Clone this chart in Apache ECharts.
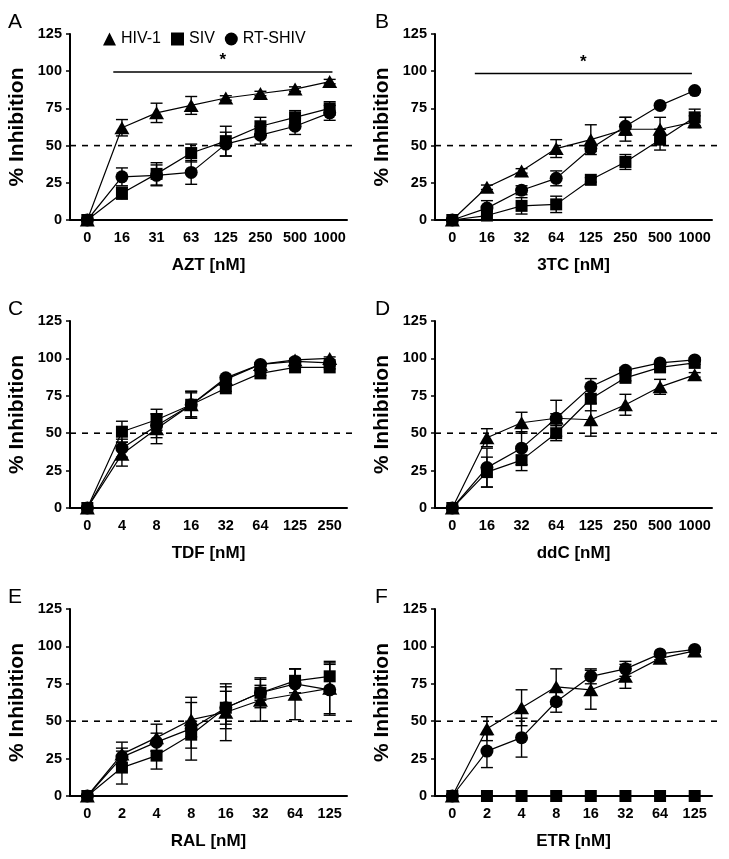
<!DOCTYPE html>
<html>
<head>
<meta charset="utf-8">
<title>% Inhibition</title>
<script src="https://cdn.jsdelivr.net/npm/echarts@6/dist/echarts.min.js"></script>
<style>body{margin:0;background:#fff;}</style>
</head>
<body>
<div id="main" style="width:729px;height:859px;"></div>
<script>
// ---- data ----
var panelLetters = ['A', 'B', 'C', 'D', 'E', 'F'];
var drugNames = ['AZT', '3TC', 'TDF', 'ddC', 'RAL', 'ETR'];
var strainNames = ['HIV-1', 'SIV', 'RT-SHIV'];

var aztDoses = ['0', '16', '31', '63', '125', '250', '500', '1000'];
var aztHiv = [0, 62, 72, 77, 82, 85, 88, 93];
var aztHivErr = [0, 5.5, 6.5, 6, 1.5, 1.5, 1.5, 1.5];
var aztSiv = [0, 18, 31, 45, 53, 63, 69, 75];
var aztSivErr = [0, 4, 7.5, 6, 10, 6, 4.5, 4.5];
var aztShiv = [0, 29, 30, 32, 51, 57, 63, 72];
var aztShivErr = [0, 6, 7, 8, 8, 6, 5.5, 5];
var aztSig = [0.75, 7.08, 99.5];

var tcDoses = ['0', '16', '32', '64', '125', '250', '500', '1000'];
var tcHiv = [0, 22, 33, 48, 54, 61, 61, 66];
var tcHivErr = [0, 1.5, 1.5, 6, 10, 8, 8, 4];
var tcSiv = [0, 3, 9.5, 10.5, 27, 39, 54, 69];
var tcSivErr = [0, 3, 5.5, 5.5, 1.5, 5, 7, 5.5];
var tcShiv = [0, 8, 20, 28, 48, 63, 77, 87];
var tcShivErr = [0, 5, 3, 5, 2, 6, 1, 1];
var tcSig = [0.65, 6.92, 98.5];

var tdfDoses = ['0', '4', '8', '16', '32', '64', '125', '250'];
var tdfHiv = [0, 36, 53, 69, 86, 96, 99, 100];
var tdfHivErr = [0, 8, 10, 9, 1.5, 1, 1, 1];
var tdfSiv = [0, 51, 59, 69, 80, 90, 94, 94];
var tdfSivErr = [0, 7, 7, 9, 2, 1.5, 1, 1];
var tdfShiv = [0, 40, 55, 69, 87, 96, 98, 97];
var tdfShivErr = [0, 6, 8, 8, 1.5, 1, 1, 1];

var ddcDoses = ['0', '16', '32', '64', '125', '250', '500', '1000'];
var ddcHiv = [0, 47, 57, 60, 59, 69, 81, 89];
var ddcHivErr = [0, 6, 7, 3, 11, 7, 5, 1.5];
var ddcSiv = [0, 24, 32, 50, 73, 87, 94, 97];
var ddcSivErr = [0, 10, 7, 5, 8, 2, 1.5, 1];
var ddcShiv = [0, 27, 40, 60, 81, 92, 97, 99];
var ddcShivErr = [0, 13, 11, 12, 5.5, 2, 1, 1];

var ralDoses = ['0', '2', '4', '8', '16', '32', '64', '125'];
var ralHiv = [0, 28, 39, 51, 56, 64, 68, 72];
var ralHivErr = [0, 8, 9, 11.5, 19, 14, 17, 17];
var ralSiv = [0, 19, 27, 41, 59, 69, 77, 80];
var ralSivErr = [0, 11, 9, 9, 11, 10, 8, 10];
var ralShiv = [0, 26, 36, 45, 59, 69, 75, 71];
var ralShivErr = [0, 6, 6, 21, 14, 5, 10, 17];

var etrDoses = ['0', '2', '4', '8', '16', '32', '64', '125'];
var etrHiv = [0, 45, 59, 73, 71, 80, 92, 97];
var etrHivErr = [0, 8, 12, 12, 13, 8, 1, 1];
var etrSiv = [0, 0, 0, 0, 0, 0, 0, 0];
var etrSivErr = [0, 0, 0, 0, 0, 0, 0, 0];
var etrShiv = [0, 30, 39, 63, 80, 85, 95, 98];
var etrShivErr = [0, 11, 13, 7, 5, 5, 1, 1];

var yTicks = [0, 25, 50, 75, 100, 125];
var halfLine = 50;

// ---- build the chart ----
var FONT = '"Liberation Sans", Arial, Helvetica, sans-serif';
var myChart = echarts.init(document.getElementById('main'));

var panels = [
  { doses: aztDoses, vals: [aztHiv, aztSiv, aztShiv], errs: [aztHivErr, aztSivErr, aztShivErr], sig: aztSig },
  { doses: tcDoses, vals: [tcHiv, tcSiv, tcShiv], errs: [tcHivErr, tcSivErr, tcShivErr], sig: tcSig },
  { doses: tdfDoses, vals: [tdfHiv, tdfSiv, tdfShiv], errs: [tdfHivErr, tdfSivErr, tdfShivErr] },
  { doses: ddcDoses, vals: [ddcHiv, ddcSiv, ddcShiv], errs: [ddcHivErr, ddcSivErr, ddcShivErr] },
  { doses: ralDoses, vals: [ralHiv, ralSiv, ralShiv], errs: [ralHivErr, ralSivErr, ralShivErr] },
  { doses: etrDoses, vals: [etrHiv, etrSiv, etrShiv], errs: [etrHivErr, etrSivErr, etrShivErr] }
];

// grid boxes (pixels)
var gridLeft = [70, 435];
var gridTop = [34, 321, 609];
var gridH = [186, 187, 187];
var gridW = 277;

var symbols = ['triangle', 'rect', 'circle'];
var symbolSizes = [[15, 13], 12, 13];
var drawOrder = [0, 2, 1]; // square drawn on top

function errorBar(params, api) {
  var x = api.value(0), y = api.value(1), e = api.value(2);
  if (!e) return;
  var hi = api.coord([x, y + e]);
  var lo = api.coord([x, y - e]);
  var w = 6;
  var st = { stroke: '#000', lineWidth: 1.4 };
  return {
    type: 'group',
    children: [
      { type: 'line', shape: { x1: hi[0], y1: hi[1], x2: lo[0], y2: lo[1] }, style: st },
      { type: 'line', shape: { x1: hi[0] - w, y1: hi[1], x2: hi[0] + w, y2: hi[1] }, style: st },
      { type: 'line', shape: { x1: lo[0] - w, y1: lo[1], x2: lo[0] + w, y2: lo[1] }, style: st }
    ]
  };
}

function refLine(params, api) {
  var cs = params.coordSys;
  var y = api.coord([0, api.value(1)])[1];
  return {
    type: 'line',
    shape: { x1: cs.x, y1: y, x2: cs.x + cs.width + 6, y2: y },
    style: { stroke: '#000', lineWidth: 1.6, lineDash: [6, 6] }
  };
}

function sigBar(params, api) {
  var s = api.value(0), e = api.value(1), v = api.value(2);
  var band = api.size([1, 0])[0];
  var p1 = api.coord([Math.floor(s), v]);
  var p2 = api.coord([Math.floor(e), v]);
  var x1 = p1[0] + (s - Math.floor(s)) * band;
  var x2 = p2[0] + (e - Math.floor(e)) * band;
  return {
    type: 'group',
    children: [
      { type: 'line', shape: { x1: x1, y1: p1[1], x2: x2, y2: p1[1] }, style: { stroke: '#000', lineWidth: 1.5 } },
      { type: 'text', x: (x1 + x2) / 2, y: p1[1] - 3,
        style: { text: '*', fill: '#000', font: 'bold 17px ' + FONT, align: 'center', verticalAlign: 'bottom' } }
    ]
  };
}

var grids = [], xAxes = [], yAxes = [], series = [], titles = [];

panels.forEach(function (p, i) {
  var col = i % 2, row = Math.floor(i / 2);
  grids.push({ left: gridLeft[col], top: gridTop[row], width: gridW, height: gridH[row] });
  titles.push({
    text: panelLetters[i], left: col === 0 ? 8 : 375, top: gridTop[row] - 22, padding: 0,
    textStyle: { fontSize: 21, fontWeight: 'normal', color: '#000', fontFamily: FONT }
  });
  xAxes.push({
    gridIndex: i, type: 'category', data: p.doses, boundaryGap: true,
    name: drugNames[i] + ' [nM]', nameLocation: 'middle', nameGap: 37,
    nameTextStyle: { fontSize: 17, fontWeight: 'bold', color: '#000', fontFamily: FONT },
    axisLine: { lineStyle: { color: '#000', width: 2 } },
    axisTick: { alignWithLabel: true, length: 4, lineStyle: { color: '#000', width: 1.5 } },
    axisLabel: { interval: 0, margin: 10, fontSize: 14.5, fontWeight: 'bold', color: '#000', fontFamily: FONT },
    splitLine: { show: false }
  });
  yAxes.push({
    gridIndex: i, type: 'value', min: yTicks[0], max: yTicks[yTicks.length - 1], interval: 25,
    name: '% Inhibition', nameLocation: 'middle', nameGap: 42, nameRotate: 90,
    nameTextStyle: { fontSize: 21, fontWeight: 'bold', color: '#000', fontFamily: FONT },
    axisLine: { show: true, lineStyle: { color: '#000', width: 2 } },
    axisTick: { show: true, length: 4, lineStyle: { color: '#000', width: 1.5 } },
    axisLabel: { margin: 8, fontSize: 14.5, fontWeight: 'bold', color: '#000', fontFamily: FONT },
    splitLine: { show: false }
  });

  // dashed 50% line
  series.push({
    type: 'custom', xAxisIndex: i, yAxisIndex: i, silent: true, z: 1,
    data: [[0, halfLine]], encode: { x: 0, y: 1 }, renderItem: refLine
  });

  drawOrder.forEach(function (k) {
    series.push({
      type: 'custom', name: strainNames[k], xAxisIndex: i, yAxisIndex: i, z: 2,
      itemStyle: { color: '#000' },
      data: p.vals[k].map(function (v, j) { return [j, v, p.errs[k][j]]; }),
      encode: { x: 0, y: 1 }, renderItem: errorBar
    });
    series.push({
      type: 'line', name: strainNames[k], xAxisIndex: i, yAxisIndex: i, z: 3,
      data: p.vals[k], symbol: symbols[k], symbolSize: symbolSizes[k], showSymbol: true,
      itemStyle: { color: '#000' }, lineStyle: { color: '#000', width: 1.2 }
    });
  });

  if (p.sig) {
    series.push({
      type: 'custom', xAxisIndex: i, yAxisIndex: i, silent: true, z: 1,
      data: [p.sig], encode: { x: 0, y: 2 }, renderItem: sigBar
    });
  }
});

var option = {
  backgroundColor: '#fff',
  animation: false,
  color: ['#000'],
  title: titles,
  legend: {
    left: 103, top: 31, padding: 0, itemWidth: 13, itemHeight: 13, itemGap: 10,
    itemStyle: { color: '#000' },
    textStyle: { fontSize: 16, color: '#000', fontFamily: FONT },
    data: [
      { name: strainNames[0], icon: 'triangle' },
      { name: strainNames[1], icon: 'rect' },
      { name: strainNames[2], icon: 'circle' }
    ]
  },
  grid: grids,
  xAxis: xAxes,
  yAxis: yAxes,
  series: series
};

myChart.setOption(option);
</script>
</body>
</html>
